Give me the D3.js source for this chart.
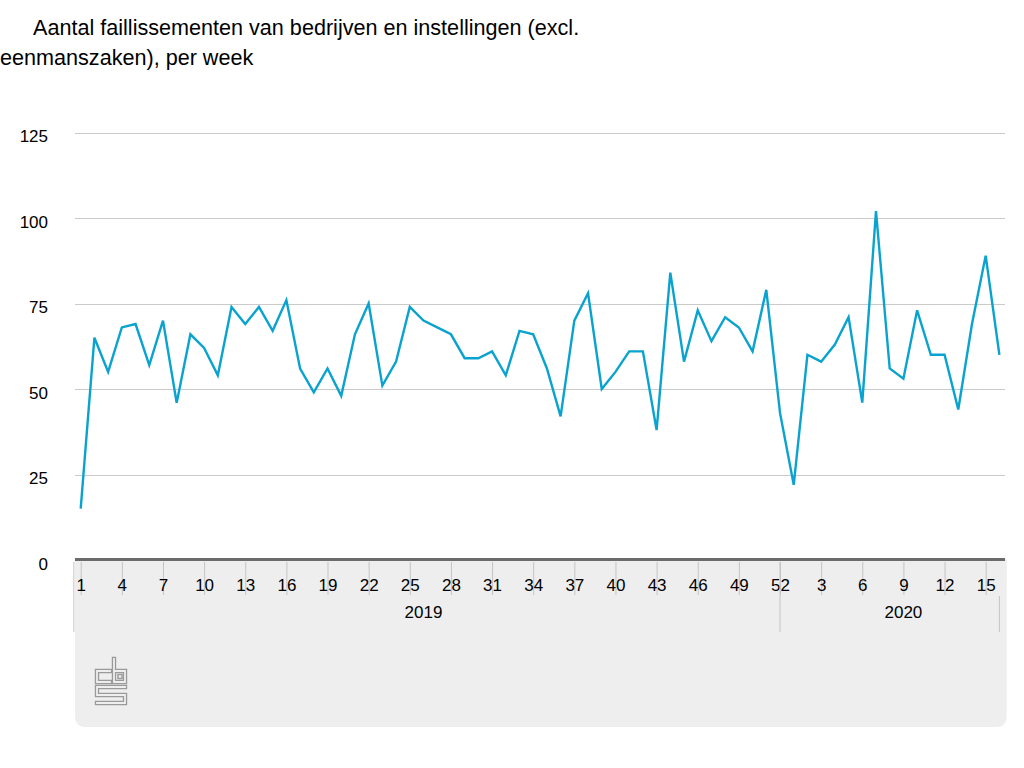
<!DOCTYPE html>
<html>
<head>
<meta charset="utf-8">
<script src="https://cdn.jsdelivr.net/npm/d3@7"></script>
<style>
  body { margin: 0; background: #fff; }
  svg { display: block; font-family: "Liberation Sans", Arial, Helvetica, sans-serif; }
</style>
</head>
<body>
<svg id="drawing_region"></svg>
<script>
// weekly bankruptcies (excl. sole proprietorships)
const weeks2019 = d3.range(1, 53);
const values2019 = [15, 65, 55, 68, 69, 57, 70, 46, 66, 62, 54, 74, 69, 74, 67, 76, 56, 49, 56, 48,
    66, 75, 51, 58, 74, 70, 68, 66, 59, 59, 61, 54, 67, 66, 56, 42, 70, 78, 50, 55,
    61, 61, 38, 84, 58, 73, 64, 71, 68, 61, 79, 43];
const weeks2020 = d3.range(1, 17);
const values2020 = [22, 60, 58, 63, 71, 46, 102, 56, 53, 73, 60, 60, 44, 69, 89, 60];
const years = ["2019", "2020"];
const yTicks = [0, 25, 50, 75, 100, 125];
const titleLines = ["Aantal faillissementen van bedrijven en instellingen (excl.",
    "eenmanszaken), per week"];

const data = [];
weeks2019.forEach((w, i) => data.push({ key: "2019-" + w, year: "2019", week: w, value: values2019[i] }));
weeks2020.forEach((w, i) => data.push({ key: "2020-" + w, year: "2020", week: w, value: values2020[i] }));

const width = 1024, height = 768;
const svg = d3.select("#drawing_region").attr("width", width).attr("height", height);

const x = d3.scalePoint().domain(data.map(d => d.key)).range([80.7, 999.4]);
const y = d3.scaleLinear().domain([0, 125]).range([560, 132.5]);
const step = x.step();
const plotLeft = 75, plotRight = 1005;

// title
svg.append("text").attr("x", 33).attr("y", 35).attr("font-size", 21.6).attr("fill", "#000").text(titleLines[0]);
svg.append("text").attr("x", 0).attr("y", 65).attr("font-size", 21.6).attr("fill", "#000").text(titleLines[1]);

// gridlines
svg.append("g").selectAll("line")
    .data(yTicks.filter(t => t > 0))
    .join("line")
    .attr("x1", plotLeft).attr("x2", plotRight)
    .attr("y1", d => Math.round(y(d)) + 0.5).attr("y2", d => Math.round(y(d)) + 0.5)
    .attr("stroke", "#cbcbcb").attr("stroke-width", 1);

// y labels
svg.append("g").selectAll("text")
    .data(yTicks)
    .join("text")
    .attr("x", 48).attr("y", d => y(d) + 4).attr("dy", "0.35em")
    .attr("text-anchor", "end").attr("font-size", 17).attr("fill", "#000")
    .text(d => d);

// gray footer panel
const panelTop = 559, panelBottom = 727;
svg.append("rect").attr("x", plotLeft).attr("y", panelTop)
    .attr("width", 1006.7 - plotLeft).attr("height", panelBottom - panelTop)
    .attr("rx", 9).attr("fill", "#eeeeee");
svg.append("rect").attr("x", plotLeft).attr("y", panelTop)
    .attr("width", 1006.7 - plotLeft).attr("height", 20).attr("fill", "#eeeeee");

// x axis with week ticks
const tickKeys = data.filter(d => (d.year === "2019" && (d.week - 1) % 3 === 0) ||
    (d.year === "2020" && d.week % 3 === 0)).map(d => d.key);
const xAxis = d3.axisBottom(x)
    .tickValues(tickKeys)
    .tickFormat(k => k.split("-")[1])
    .tickSize(33)
    .tickPadding(-16);
const gx = svg.append("g").attr("transform", "translate(0,562)").call(xAxis);
gx.select(".domain").remove();
gx.selectAll(".tick line").attr("stroke", "#c4c4c4");
gx.selectAll(".tick text").attr("font-size", 17).attr("fill", "#000")
    .attr("font-family", "'Liberation Sans', Arial, sans-serif");

// year separators
const lastKey2019 = "2019-" + weeks2019[weeks2019.length - 1];
const lastKey2020 = "2020-" + weeks2020[weeks2020.length - 1];
const seps = [
    { x: x(data[0].key) - step / 2, y1: 562 },
    { x: x(lastKey2019), y1: 562 },
    { x: x(lastKey2020), y1: 596 }
];
svg.append("g").selectAll("line").data(seps).join("line")
    .attr("x1", d => d.x).attr("x2", d => d.x)
    .attr("y1", d => d.y1).attr("y2", 632)
    .attr("stroke", "#c4c4c4");

// year labels
const yearAnchor = { "2019": "2019-26", "2020": "2020-9" };
svg.append("g").selectAll("text").data(years).join("text")
    .attr("x", d => x(yearAnchor[d])).attr("y", 618)
    .attr("text-anchor", "middle").attr("font-size", 17).attr("fill", "#000")
    .text(d => d);

// axis base line
svg.append("line").attr("x1", plotLeft).attr("x2", plotRight)
    .attr("y1", 559.5).attr("y2", 559.5)
    .attr("stroke", "#6b6b6b").attr("stroke-width", 3);

// data line
const line = d3.line().x(d => x(d.key)).y(d => y(d.value));
svg.append("path").datum(data)
    .attr("d", line)
    .attr("fill", "none")
    .attr("stroke", "#0aa3cf")
    .attr("stroke-width", 2.4)
    .attr("stroke-linejoin", "miter");

// cbs logo (outlined strokes)
const logo = svg.append("g").attr("transform", "translate(95,658)");
const logoPaths = [
    "M15,13 H2 V24 H15",
    "M19,1 V24 H30 V13 H19",
    "M30,29 H2 V37 H30 V45 H2"
];
logoPaths.forEach(p => {
    logo.append("path").attr("d", p).attr("fill", "none")
        .attr("stroke", "#9a9a9a").attr("stroke-width", 4.4).attr("stroke-linecap", "square");
    logo.append("path").attr("d", p).attr("fill", "none")
        .attr("stroke", "#eeeeee").attr("stroke-width", 1.8).attr("stroke-linecap", "square");
});
logo.append("rect").attr("x", 23).attr("y", 16.5).attr("width", 4).attr("height", 4)
    .attr("fill", "none").attr("stroke", "#9a9a9a").attr("stroke-width", 1.4);
</script>
</body>
</html>
